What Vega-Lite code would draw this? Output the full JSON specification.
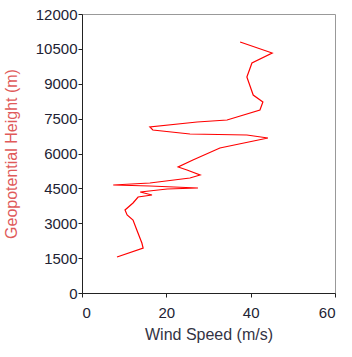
{
  "$schema": "https://vega.github.io/schema/vega-lite/v6.json",
  "autosize": {"type": "none"},
  "padding": {"left": 82, "top": 14, "right": 17, "bottom": 64},
  "width": 253,
  "height": 279,
  "background": "white",
  "config": {
    "view": {"stroke": "#999999", "strokeWidth": 1},
    "axis": {
      "labelFont": "Liberation Sans",
      "titleFont": "Liberation Sans",
      "labelFontSize": 15,
      "titleFontSize": 16,
      "labelColor": "#222233",
      "titleColor": "#333344",
      "domainColor": "#222222",
      "tickColor": "#222222",
      "grid": false,
      "titleFontWeight": "normal",
      "format": "d"
    }
  },
  "data": {
    "values": [
      {"i": 1, "speed": 37.5, "height": 10796},
      {"i": 2, "speed": 45.1, "height": 10323},
      {"i": 3, "speed": 40.3, "height": 9892},
      {"i": 4, "speed": 39.1, "height": 9290},
      {"i": 5, "speed": 40.6, "height": 8516},
      {"i": 6, "speed": 42.9, "height": 8215},
      {"i": 7, "speed": 42.2, "height": 7871},
      {"i": 8, "speed": 34.4, "height": 7441},
      {"i": 9, "speed": 27.3, "height": 7355},
      {"i": 10, "speed": 16.1, "height": 7140},
      {"i": 11, "speed": 16.8, "height": 7011},
      {"i": 12, "speed": 25.6, "height": 6839},
      {"i": 13, "speed": 39.1, "height": 6796},
      {"i": 14, "speed": 44.1, "height": 6667},
      {"i": 15, "speed": 32.7, "height": 6237},
      {"i": 16, "speed": 26.3, "height": 5720},
      {"i": 17, "speed": 22.8, "height": 5419},
      {"i": 18, "speed": 24.9, "height": 5290},
      {"i": 19, "speed": 28.0, "height": 5075},
      {"i": 20, "speed": 25.6, "height": 4946},
      {"i": 21, "speed": 16.1, "height": 4731},
      {"i": 22, "speed": 7.4, "height": 4645},
      {"i": 23, "speed": 16.1, "height": 4602},
      {"i": 24, "speed": 27.5, "height": 4516},
      {"i": 25, "speed": 20.2, "height": 4473},
      {"i": 26, "speed": 13.8, "height": 4344},
      {"i": 27, "speed": 16.6, "height": 4215},
      {"i": 28, "speed": 13.3, "height": 4129},
      {"i": 29, "speed": 12.1, "height": 3871},
      {"i": 30, "speed": 10.2, "height": 3570},
      {"i": 31, "speed": 10.7, "height": 3355},
      {"i": 32, "speed": 12.1, "height": 3140},
      {"i": 33, "speed": 13.0, "height": 2710},
      {"i": 34, "speed": 14.2, "height": 2151},
      {"i": 35, "speed": 14.5, "height": 1935},
      {"i": 36, "speed": 8.3, "height": 1548}
    ]
  },
  "mark": {"type": "line", "color": "#ff0000", "strokeWidth": 1.2},
  "encoding": {
    "x": {
      "field": "speed",
      "type": "quantitative",
      "scale": {"domain": [0, 60], "nice": false, "zero": false},
      "axis": {"values": [0, 20, 40, 60], "title": "Wind Speed (m/s)", "tickSize": 4, "titlePadding": 6, "labelPadding": 8}
    },
    "y": {
      "field": "height",
      "type": "quantitative",
      "scale": {"domain": [0, 12000], "nice": false, "zero": false},
      "axis": {
        "values": [0, 1500, 3000, 4500, 6000, 7500, 9000, 10500, 12000],
        "title": "Geopotential Height (m)",
        "titleColor": "#e05a5a",
        "tickSize": 4,
        "labelPadding": 1,
        "titlePadding": 16
      }
    },
    "order": {"field": "i", "type": "quantitative"}
  }
}
